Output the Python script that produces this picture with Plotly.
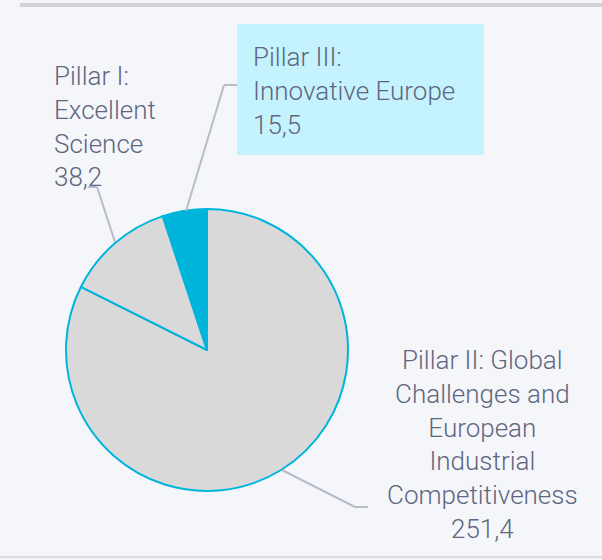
import plotly.graph_objects as go

# ---- data ----
pillar_names = ["Pillar II: Global<br>Challenges and<br>European<br>Industrial<br>Competitiveness",
                "Pillar I:<br>Excellent<br>Science",
                "Pillar III:<br>Innovative Europe"]
pillar_values = [251.4, 38.2, 15.5]
slice_colors = ["#d9d9d9", "#d9d9d9", "#00b5dc"]

W, H = 602, 560
TEXT = "#5f6680"
LEAD = "#b9bbc9"
FONT = dict(family="Roboto, 'Open Sans', sans-serif", size=26, color=TEXT, weight=300)


def px(x):
    return x / W


def py(y):
    return 1 - y / H


def fmt(v):
    return f"{v:.1f}".replace(".", ",")


cx, cy, r = 207, 350, 141

fig = go.Figure(go.Pie(
    values=pillar_values,
    labels=[n.replace("<br>", " ") for n in pillar_names],
    marker=dict(colors=slice_colors, line=dict(color="#00b5dc", width=2)),
    sort=False, direction="clockwise", rotation=0,
    textinfo="none", hoverinfo="none", showlegend=False,
    domain=dict(x=[px(cx - r), px(cx + r)], y=[py(cy + r), py(cy - r)]),
))

shapes = []
# page frame hints
shapes.append(dict(type="line", xref="paper", yref="paper", x0=px(20), x1=1, y0=py(5), y1=py(5),
                   line=dict(color="#d2d2da", width=4), layer="below"))
shapes.append(dict(type="line", xref="paper", yref="paper", x0=0, x1=1, y0=py(557), y1=py(557),
                   line=dict(color="#dcdce0", width=2), layer="below"))
# Pillar III box
shapes.append(dict(type="rect", xref="paper", yref="paper", x0=px(237), x1=px(484), y0=py(155), y1=py(24),
                   fillcolor="#c4f3fd", line=dict(width=0), layer="below"))


def leader(pts):
    for (x0, y0), (x1, y1) in zip(pts[:-1], pts[1:]):
        shapes.append(dict(type="line", xref="paper", yref="paper",
                           x0=px(x0), y0=py(y0), x1=px(x1), y1=py(y1),
                           line=dict(color=LEAD, width=2)))


leader([(88, 187), (97, 187), (115, 242)])
leader([(237, 85), (224, 85), (186, 211)])
leader([(282, 470), (355, 507), (368, 507)])

annotations = [
    dict(text=pillar_names[1] + "<br>" + fmt(pillar_values[1]), x=px(52), y=py(127),
         xanchor="left", yanchor="middle", align="left"),
    dict(text=pillar_names[2] + "<br>" + fmt(pillar_values[2]), x=px(251), y=py(91),
         xanchor="left", yanchor="middle", align="left"),
    dict(text=pillar_names[0] + "<br>" + fmt(pillar_values[0]), x=px(482), y=py(444),
         xanchor="center", yanchor="middle", align="center"),
]
for a in annotations:
    a.update(xref="paper", yref="paper", showarrow=False, font=FONT)

fig.update_layout(
    width=W, height=H, margin=dict(l=0, r=0, t=0, b=0),
    paper_bgcolor="#f5f6fa", plot_bgcolor="#f5f6fa",
    shapes=shapes, annotations=annotations,
)

fig.write_html("out.html", config={"displayModeBar": False},
               post_script="document.body.style.margin='0';document.body.style.overflow='hidden';")
